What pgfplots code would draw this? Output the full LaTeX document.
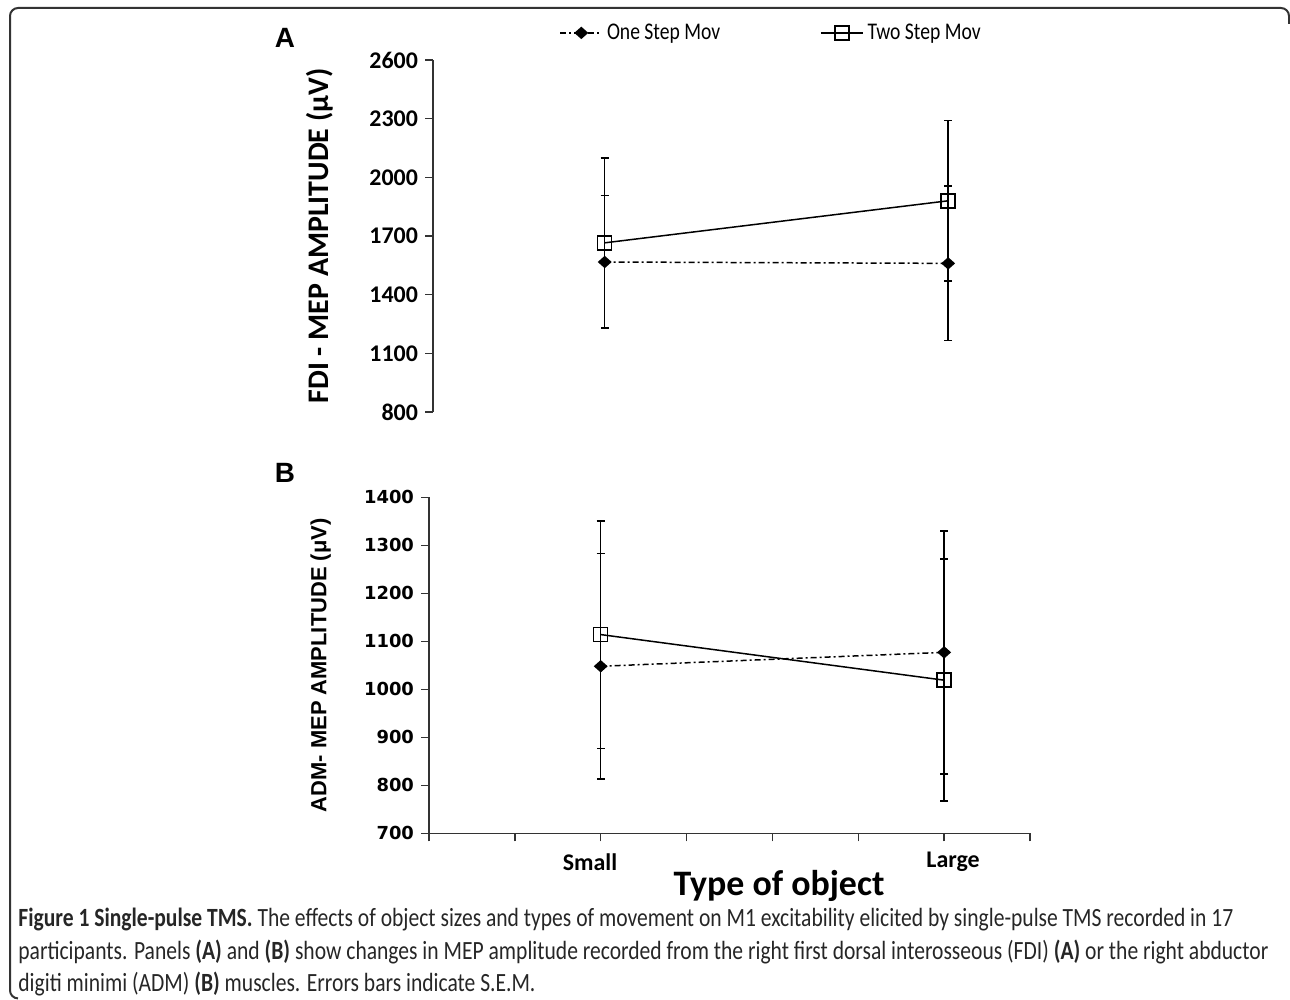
\documentclass[border=0pt]{standalone}
\usepackage{pgfplots}
\pgfplotsset{compat=1.18}
\usepackage{fontspec}
\setmainfont{Carlito}
\newfontfamily\dejavu{DejaVu Sans}
\newfontfamily\arialf{Liberation Sans}
\newfontfamily\condf{Carlito}[FakeStretch=0.82]

\pgfplotsset{
 common/.style={scale only axis, anchor=south west, width=300.5bp, xmin=0, xmax=7, clip=false,
   axis y line*=left, axis line style={-, black!80, line width=0.75bp},
   tick style={black!80, line width=0.75bp}, tick align=outside, major tick length=4bp,
   /pgf/number format/1000 sep={}, /pgf/number format/assume math mode=true,
   every axis plot/.append style={black, line width=0.75bp},
   error bars/error bar style={solid, line width=0.75bp, black},
   error bars/error mark options={rotate=90, mark size=2bp, line width=0.75bp, black}},
 one/.style={black, dash pattern=on 3bp off 1.5bp on 1bp off 1.5bp, mark=diamond*, mark size=2.6bp, mark options={solid, fill=black, xscale=1.5}},
 two/.style={black, solid, mark=square, mark size=3.5bp, mark options={solid, fill=white}},
}

\begin{document}
\begin{tikzpicture}
\path[use as bounding box] (0,0) rectangle (645bp,500bp);
\draw[black!80, line width=1bp, rounded corners=4bp] (9bp,0.8bp) -- (5bp,0.8bp) -- (5bp,496bp) -- (644.5bp,496bp) -- (644.5bp,488bp);

% Panel A
\begin{axis}[common, at={(216.5bp,294bp)}, height=176bp,
  ymin=800, ymax=2600, ytick={800,1100,...,2600},
  axis x line=none,
  yticklabel style={font=\fontsize{12}{14}\selectfont\bfseries},
  ylabel={FDI - MEP AMPLITUDE (μV)},
  ylabel style={at={(axis description cs:-0.188,0.5)}, anchor=center, rotate=0, font=\fontsize{15}{17}\selectfont\bfseries},
  legend style={at={(0.2,1.077)}, anchor=west, draw=none, fill=none, legend columns=2,
     font=\condf\fontsize{12}{14}\selectfont,
     /tikz/every even column/.append style={column sep=48bp}},
  legend image code/.code={\draw[mark repeat=2,mark phase=2] plot coordinates {(0cm,0cm) (0.37cm,0cm) (0.74cm,0cm)};},
]
\addplot+[one, error bars/.cd, y dir=both, y explicit] coordinates {(2,1567) +- (0,340) (6,1560) +- (0,395)};
\addlegendentry{One Step Mov}
\addplot+[two, error bars/.cd, y dir=both, y explicit] coordinates {(2,1665) +- (0,433) (6,1880) +- (0,410)};
\addlegendentry{Two Step Mov}
\end{axis}

% Panel B
\begin{axis}[common, at={(214.5bp,83.35bp)}, height=168bp,
  ymin=700, ymax=1400, ytick={700,800,...,1400},
  axis x line*=bottom, xtick={0,...,7}, xticklabels={},
  yticklabel style={font=\dejavu\fontsize{9}{11}\selectfont\bfseries},
  ylabel={ADM- MEP AMPLITUDE (μV)},
  ylabel style={at={(axis description cs:-0.18,0.5)}, anchor=center, rotate=0, font=\arialf\fontsize{11}{13}\selectfont\bfseries},
]
\addplot+[one, error bars/.cd, y dir=both, y explicit] coordinates {(2,1048) +- (0,235) (6,1077) +- (0,253)};
\addplot+[two, error bars/.cd, y dir=both, y explicit] coordinates {(2,1114) +- (0,237) (6,1019) +- (0,252)};
\end{axis}

\node[font=\arialf\fontsize{14}{16}\selectfont\bfseries] at (142.5bp,481bp) {A};
\node[font=\arialf\fontsize{14}{16}\selectfont\bfseries] at (142.5bp,263.5bp) {B};
\node[font=\fontsize{12}{14}\selectfont\bfseries] at (295bp,69bp) {Small};
\node[font=\fontsize{12}{14}\selectfont\bfseries] at (476.5bp,69bp) {Large};
\node[font=\fontsize{18}{20}\selectfont\bfseries] at (389.5bp,57bp) {Type of object};

\node[anchor=north west, align=left, inner sep=0pt, text=black!85, font=\condf\fontsize{13.2}{16.2}\selectfont] at (9bp,46bp)
{{\bfseries Figure 1 Single-pulse TMS.} The effects of object sizes and types of movement on M1 excitability elicited by single-pulse TMS recorded in 17\\
participants. Panels {\bfseries (A)} and {\bfseries (B)} show changes in MEP amplitude recorded from the right first dorsal interosseous (FDI) {\bfseries (A)} or the right abductor\\
digiti minimi (ADM) {\bfseries (B)} muscles. Errors bars indicate S.E.M.};
\end{tikzpicture}
\end{document}
